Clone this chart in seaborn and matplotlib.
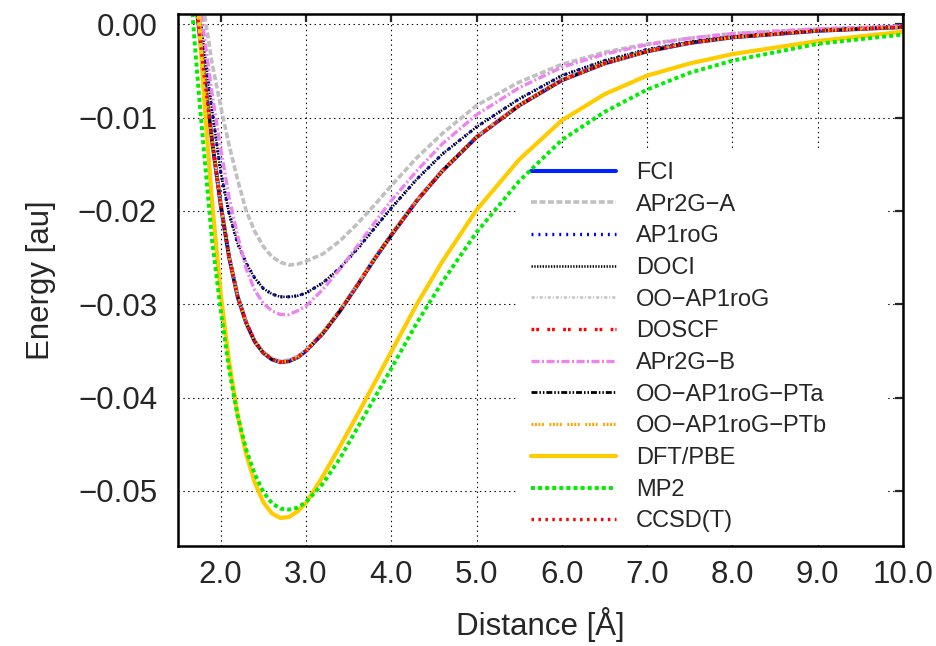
import matplotlib
matplotlib.use("Agg")
import matplotlib.pyplot as plt
from matplotlib.ticker import FuncFormatter
import seaborn as sns

# bond distance grid [Angstrom]
distance = [1.65, 1.70, 1.75, 1.80, 1.90, 2.00, 2.10, 2.20, 2.30, 2.40, 2.50,
            2.60, 2.70, 2.80, 2.90, 3.00, 3.20, 3.40, 3.60, 3.80, 4.00, 4.30,
            4.60, 5.00, 5.50, 6.00, 6.50, 7.00, 7.50, 8.00, 9.00, 10.00]

# energies [au]
fci = [0.0080, 0.0033, -0.0008, -0.0050, -0.0125, -0.0193, -0.0250, -0.0292,
       -0.0320, -0.0340, -0.0352, -0.0359, -0.0362, -0.0361, -0.0357, -0.0350,
       -0.0331, -0.0307, -0.0280, -0.0252, -0.0226, -0.0189, -0.0157, -0.0121,
       -0.0087, -0.0060, -0.0042, -0.0029, -0.0020, -0.0014, -0.0007, -0.0003]
apr2g_a = [0.0140, 0.0095, 0.0050, 0.0017, -0.0042, -0.0088, -0.0130, -0.0167,
           -0.0200, -0.0222, -0.0238, -0.0249, -0.0255, -0.0258, -0.0257, -0.0254,
           -0.0246, -0.0232, -0.0214, -0.0194, -0.0173, -0.0143, -0.0117, -0.0087,
           -0.0062, -0.0043, -0.0030, -0.0021, -0.0015, -0.0010, -0.0005, -0.0002]
ap1rog = [0.0085, 0.0045, 0.0013, -0.0022, -0.0092, -0.0158, -0.0203, -0.0235,
          -0.0256, -0.0272, -0.0283, -0.0289, -0.0292, -0.0292, -0.0291, -0.0288,
          -0.0277, -0.0261, -0.0241, -0.0219, -0.0197, -0.0166, -0.0139, -0.0110,
          -0.0080, -0.0055, -0.0039, -0.0027, -0.0019, -0.0013, -0.0006, -0.0002]
doci = [0.0085, 0.0045, 0.0013, -0.0022, -0.0092, -0.0158, -0.0203, -0.0235,
        -0.0256, -0.0272, -0.0283, -0.0289, -0.0292, -0.0292, -0.0291, -0.0288,
        -0.0277, -0.0261, -0.0241, -0.0219, -0.0197, -0.0166, -0.0139, -0.0110,
        -0.0080, -0.0055, -0.0039, -0.0027, -0.0019, -0.0013, -0.0006, -0.0002]
oo_ap1rog = [0.0082, 0.0035, -0.0006, -0.0048, -0.0123, -0.0191, -0.0248, -0.0290,
             -0.0318, -0.0338, -0.0350, -0.0357, -0.0360, -0.0359, -0.0355, -0.0348,
             -0.0329, -0.0305, -0.0278, -0.0250, -0.0224, -0.0188, -0.0156, -0.0120,
             -0.0086, -0.0059, -0.0041, -0.0028, -0.0020, -0.0014, -0.0007, -0.0003]
doscf = [0.0080, 0.0033, -0.0008, -0.0050, -0.0125, -0.0193, -0.0250, -0.0292,
         -0.0320, -0.0340, -0.0352, -0.0359, -0.0362, -0.0361, -0.0357, -0.0350,
         -0.0331, -0.0307, -0.0280, -0.0252, -0.0226, -0.0189, -0.0157, -0.0121,
         -0.0087, -0.0060, -0.0042, -0.0029, -0.0020, -0.0014, -0.0007, -0.0003]
apr2g_b = [0.0105, 0.0062, 0.0027, -0.0007, -0.0075, -0.0133, -0.0186, -0.0227,
           -0.0262, -0.0285, -0.0299, -0.0307, -0.0311, -0.0311, -0.0307, -0.0302,
           -0.0284, -0.0262, -0.0238, -0.0213, -0.0189, -0.0157, -0.0128, -0.0097,
           -0.0068, -0.0046, -0.0032, -0.0022, -0.0015, -0.0010, -0.0005, -0.0002]
oo_pta = [0.0080, 0.0033, -0.0008, -0.0050, -0.0125, -0.0193, -0.0250, -0.0292,
          -0.0320, -0.0340, -0.0352, -0.0359, -0.0362, -0.0361, -0.0357, -0.0350,
          -0.0331, -0.0307, -0.0280, -0.0252, -0.0226, -0.0189, -0.0157, -0.0121,
          -0.0087, -0.0060, -0.0042, -0.0029, -0.0020, -0.0014, -0.0007, -0.0003]
oo_ptb = [0.0080, 0.0033, -0.0008, -0.0050, -0.0125, -0.0193, -0.0250, -0.0292,
          -0.0320, -0.0340, -0.0352, -0.0359, -0.0362, -0.0361, -0.0357, -0.0350,
          -0.0331, -0.0307, -0.0280, -0.0252, -0.0226, -0.0189, -0.0157, -0.0121,
          -0.0087, -0.0060, -0.0042, -0.0029, -0.0020, -0.0014, -0.0007, -0.0003]
dft_pbe = [0.0160, 0.0075, 0.0000, -0.0072, -0.0191, -0.0288, -0.0362, -0.0419,
           -0.0461, -0.0491, -0.0512, -0.0524, -0.0529, -0.0528, -0.0522, -0.0513,
           -0.0484, -0.0452, -0.0419, -0.0385, -0.0351, -0.0300, -0.0254, -0.0199,
           -0.0145, -0.0103, -0.0075, -0.0055, -0.0042, -0.0032, -0.0018, -0.0008]
mp2 = [0.0035, -0.0025, -0.0080, -0.0132, -0.0232, -0.0306, -0.0370, -0.0420,
       -0.0456, -0.0482, -0.0501, -0.0513, -0.0519, -0.0520, -0.0518, -0.0512,
       -0.0492, -0.0465, -0.0433, -0.0401, -0.0369, -0.0320, -0.0276, -0.0223,
       -0.0168, -0.0124, -0.0094, -0.0070, -0.0052, -0.0039, -0.0021, -0.0011]
ccsd_t = [0.0080, 0.0033, -0.0008, -0.0050, -0.0125, -0.0193, -0.0250, -0.0292,
          -0.0320, -0.0340, -0.0352, -0.0359, -0.0362, -0.0361, -0.0357, -0.0350,
          -0.0331, -0.0307, -0.0280, -0.0252, -0.0226, -0.0189, -0.0157, -0.0121,
          -0.0087, -0.0060, -0.0042, -0.0029, -0.0020, -0.0014, -0.0007, -0.0003]

sns.set_style("white")
plt.rcParams["font.family"] = ["Liberation Sans", "DejaVu Sans"]
plt.rcParams["lines.scale_dashes"] = False

# (label, values, color, linewidth, linestyle)
series = [
    ("FCI", fci, "#0022ff", 2.9, "-"),
    ("APr2G\u2212A", apr2g_a, "#c0c0c0", 2.6, (0, (4.3, 1.8))),
    ("AP1roG", ap1rog, "#0000ff", 2.4, (0, (1.4, 3.6))),
    ("DOCI", doci, "black", 1.8, (0, (1.0, 1.0))),
    ("OO\u2212AP1roG", oo_ap1rog, "#c8c8c8", 1.9, (0, (2.4, 1.3, 0.8, 1.3))),
    ("DOSCF", doscf, "#ff0000", 2.4, (0, (2.0, 1.4, 2.0, 6.0))),
    ("APr2G\u2212B", apr2g_b, "#ee82ee", 2.4, (0, (5.8, 1.8, 1.4, 1.8))),
    ("OO\u2212AP1roG\u2212PTa", oo_pta, "black", 2.0,
     (0, (4.3, 1.4, 1.1, 1.4, 1.1, 1.4))),
    ("OO\u2212AP1roG\u2212PTb", oo_ptb, "#ffa500", 2.3,
     (0, (1.4, 1.1, 1.4, 1.1, 1.4, 1.1, 1.4, 4.0))),
    ("DFT/PBE", dft_pbe, "#ffcc00", 3.0, "-"),
    ("MP2", mp2, "#00ee00", 2.8, (0, (2.9, 2.2))),
    ("CCSD(T)", ccsd_t, "#ff0000", 2.4, (0, (1.8, 3.2))),
]

fig = plt.figure(figsize=(9.37, 6.46), dpi=100)
ax = fig.add_axes([178 / 937, 100 / 646, 725 / 937, 532 / 646])

for label, vals, color, lw, ls in series:
    sns.lineplot(x=distance, y=vals, ax=ax, color=color, linewidth=lw,
                 linestyle=ls, label=label, sort=False, errorbar=None)

ax.set_xlim(1.5, 10.0)
ax.set_ylim(-0.0559, 0.0011)
ax.set_xticks([2, 3, 4, 5, 6, 7, 8, 9, 10])
ax.set_yticks([0.0, -0.01, -0.02, -0.03, -0.04, -0.05])
ax.xaxis.set_major_formatter(FuncFormatter(lambda v, p: f"{v:.1f}"))
ax.yaxis.set_major_formatter(
    FuncFormatter(lambda v, p: f"{v:.2f}".replace("-", "\u2212") if abs(v) > 1e-9 else "0.00"))

ax.grid(True, color="black", linestyle=(0, (1, 2.5)), linewidth=0.8)
ax.set_axisbelow(True)
ax.tick_params(direction="in", length=6, width=1.6, labelsize=22.5,
               top=True, right=True)
ax.tick_params(axis="y", pad=15)
ax.tick_params(axis="x", pad=10)
for sp in ax.spines.values():
    sp.set_linewidth(1.8)
    sp.set_color("black")

ax.set_xlabel("Distance [Å]", fontsize=22.5)
ax.set_ylabel("Energy [au]", fontsize=22.5)
ax.xaxis.set_label_coords(0.5, -0.115)
ax.yaxis.set_label_coords(-0.168, 0.5)

# key box: opaque over the grid, spanning roughly x 518-885 px
leg = ax.legend(loc="upper left",
                bbox_to_anchor=(518 / 937, 1 - 545 / 646, 367 / 937, 396 / 646),
                bbox_transform=fig.transFigure, mode="expand", fontsize=17,
                frameon=True, facecolor="white", edgecolor="none",
                framealpha=1.0, fancybox=False, handlelength=3.6,
                handletextpad=0.85, labelspacing=0.41, borderpad=0.55,
                borderaxespad=0)
leg.set_zorder(1.5)

fig.savefig("out.png", dpi=100)
